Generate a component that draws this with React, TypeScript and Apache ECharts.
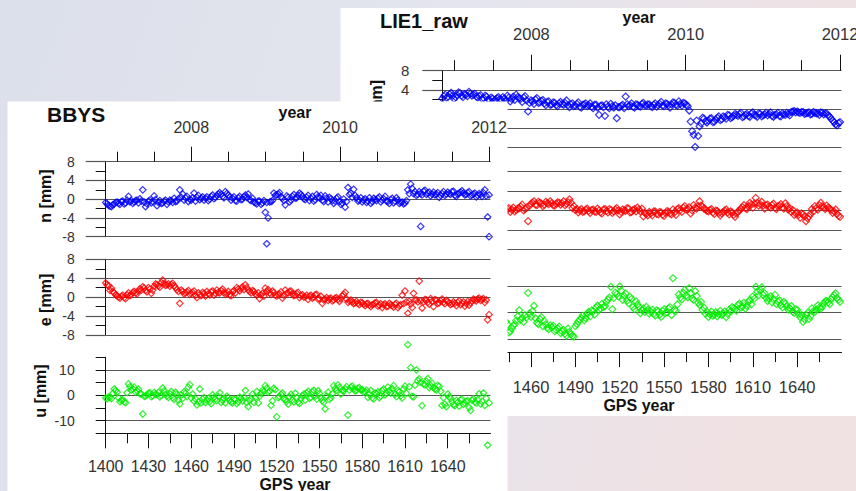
import React, { useEffect, useRef } from "react";
import * as echarts from "echarts";

// GPS weeks of the weekly solutions, split into even and odd weeks
const weeksEven = [
  1400, 1402, 1404, 1406, 1408, 1410, 1412, 1414, 1416, 1418,
  1420, 1422, 1424, 1426, 1428, 1430, 1432, 1434, 1436, 1438,
  1440, 1442, 1444, 1446, 1448, 1450, 1452, 1454, 1456, 1458,
  1460, 1462, 1464, 1466, 1468, 1470, 1472, 1474, 1476, 1478,
  1480, 1482, 1484, 1486, 1488, 1490, 1492, 1494, 1496, 1498,
  1500, 1502, 1504, 1506, 1508, 1510, 1512, 1514, 1516, 1518,
  1520, 1522, 1524, 1526, 1528, 1530, 1532, 1534, 1536, 1538,
  1540, 1542, 1544, 1546, 1548, 1550, 1552, 1554, 1556, 1558,
  1560, 1562, 1564, 1566, 1568, 1570, 1572, 1574, 1576, 1578,
  1580, 1582, 1584, 1586, 1588, 1590, 1592, 1594, 1596, 1598,
  1600, 1602, 1604, 1606, 1608, 1610, 1612, 1614, 1616, 1618,
  1620, 1622, 1624, 1626, 1628, 1630, 1632, 1634, 1636, 1638,
  1640, 1642, 1644, 1646, 1648, 1650, 1652, 1654, 1656, 1658,
  1660, 1662, 1664, 1666, 1668,
];
const weeksOdd = [
  1401, 1403, 1405, 1407, 1409, 1411, 1413, 1415, 1417, 1419,
  1421, 1423, 1425, 1427, 1429, 1431, 1433, 1435, 1437, 1439,
  1441, 1443, 1445, 1447, 1449, 1451, 1453, 1455, 1457, 1459,
  1461, 1463, 1465, 1467, 1469, 1471, 1473, 1475, 1477, 1479,
  1481, 1483, 1485, 1487, 1489, 1491, 1493, 1495, 1497, 1499,
  1501, 1503, 1505, 1507, 1509, 1511, 1513, 1515, 1517, 1519,
  1521, 1523, 1525, 1527, 1529, 1531, 1533, 1535, 1537, 1539,
  1541, 1543, 1545, 1547, 1549, 1551, 1553, 1555, 1557, 1559,
  1561, 1563, 1565, 1567, 1569, 1571, 1573, 1575, 1577, 1579,
  1581, 1583, 1585, 1587, 1589, 1591, 1593, 1595, 1597, 1599,
  1601, 1603, 1605, 1607, 1609, 1611, 1613, 1615, 1617, 1619,
  1621, 1623, 1625, 1627, 1629, 1631, 1633, 1635, 1637, 1639,
  1641, 1643, 1645, 1647, 1649, 1651, 1653, 1655, 1657, 1659,
  1661, 1663, 1665, 1667, 1669,
];

// BBYS north [mm]
const bbysN = [
  -0.7, -1.3, -1.6, -1.0, -0.6, -1.1, -0.4, -0.8, 0.6, -0.3,
  -0.6, -0.2, 0.1, 2.0, -1.6, -0.4, -0.8, 0.7, -1.4, -0.3,
  -0.8, -0.2, -0.6, -0.3, 0.2, -0.4, 2.0, 1.1, 0.3, -0.5,
  -0.2, 1.3, 0.4, -0.1, 0.5, 0.2, -0.3, 0.6, 0.1, 0.8,
  1.4, 0.6, 1.6, 0.9, -0.2, 0.5, -0.4, 0.6, 0.0, 0.9,
  1.1, -0.3, -0.6, -1.0, -0.4, -0.8, -2.8, -4.0, -0.5, 1.3,
  0.9, 1.4, 0.2, -1.2, 0.4, -0.2, 1.0, 0.3, 1.3, 0.6,
  -0.1, 0.8, 0.2, -0.4, 1.0, 0.3, -0.2, 0.7, -0.6, 0.1,
  -0.9, 0.2, -0.5, -0.8, -1.7, 2.5, 1.3, 2.1, 0.3, -0.2,
  -0.6, 0.1, -0.4, -0.9, 0.2, -0.3, 0.5, -0.2, 0.6, -0.5,
  -0.1, -0.8, 0.3, -0.9, -0.6, -0.8, 2.0, 3.2, 1.2, 0.8,
  1.6, 0.9, 1.9, 1.3, 0.7, 1.5, 1.1, 0.4, 1.2, 0.8,
  1.5, 1.0, 1.7, 0.6, 1.3, 1.8, 0.9, 1.4, 0.7, 1.1,
  0.5, 1.2, 0.6, 2.0, -3.8,
];
const bbysNOdd = [
  -1.0, -1.5, -1.2, -0.7, -0.9, -0.5, -1.0, -0.2, -0.6, -0.9,
  -0.3, -0.8, -0.4, -0.6, -1.0, -0.2, -0.5, -0.1, -0.7, -0.9,
  -0.4, -1.1, -0.2, -0.7, -0.5, 0.1, 0.4, -0.2, 0.6, 0.0,
  0.3, -0.4, 0.8, 0.2, -0.2, 0.5, 0.0, 0.9, 0.4, 1.1,
  1.0, 0.3, 1.2, 0.5, 0.2, -0.3, 0.3, -0.1, 0.5, 0.4,
  -0.1, 0.2, -0.8, -0.4, -1.1, -0.3, -0.7, -0.6, -0.3, 0.8,
  1.1, 0.5, -0.3, 0.7, -0.6, 0.6, 0.2, 0.8, 1.0, 0.1,
  0.4, -0.3, 0.6, -0.1, 0.5, 0.8, -0.5, 0.2, 0.4, -0.3,
  -0.4, 0.5, -1.1, 0.0, -0.5, 1.0, 0.4, 0.8, -0.4, 0.3,
  -0.2, -0.7, 0.3, -0.5, -0.1, 0.2, -0.6, 0.1, -0.4, -0.9,
  0.2, -0.4, -0.2, -0.7, -1.0, -0.3, 1.2, 2.3, 1.6, 1.0,
  1.2, 1.7, 1.0, 1.5, 1.1, 0.9, 1.4, 0.8, 1.6, 1.1,
  1.2, 1.6, 0.8, 1.1, 1.5, 1.3, 1.0, 1.6, 0.9, 1.3,
  0.8, 1.0, 1.4, 0.7, 0.9,
];
const bbysNExtra = [[1513, -9.5], [1621, -5.8], [1669, -8.0]];

// BBYS east [mm]
const bbysE = [
  3.0, 2.4, 1.9, 0.9, 0.3, -0.2, 0.4, -0.3, 0.9, 0.6,
  1.2, 0.7, 1.8, 2.2, 1.4, 2.0, 0.8, 2.3, 2.6, 2.1,
  3.6, 2.5, 2.8, 2.7, 2.4, 1.6, -1.3, 1.2, 0.9, 1.4,
  0.8, 1.3, -0.1, 0.6, 1.0, 0.2, 0.7, 1.1, 0.4, 1.5,
  0.9, 1.7, 0.6, 1.2, 0.3, 1.4, 2.0, 1.3, 2.2, 2.6,
  1.5, 0.9, 1.2, 0.4, -0.3, 0.8, 1.9, 1.6, 0.6, 1.0,
  0.2, 0.7, -0.2, 1.5, 0.9, 1.3, 0.3, 0.8, -0.1, 0.5,
  0.1, -0.5, 0.4, 0.0, 0.6, -0.3, -1.3, -0.4, -0.7, -0.2,
  -0.6, -0.1, -0.9, 0.3, 1.0, -1.1, -0.6, -1.4, -0.9, -1.6,
  -1.2, -1.8, -1.3, -2.0, -1.5, -1.1, -1.7, -2.2, -1.4, -1.9,
  -1.6, -2.1, -1.3, -1.8, 0.4, 1.3, -3.4, -1.5, 0.8, -0.6,
  3.4, -2.3, -0.5, -1.1, -0.3, -2.0, -0.7, -1.2, -0.4, -1.4,
  -0.9, -1.6, -1.0, -1.8, -0.8, -1.3, -1.9, -0.9, -1.2, -0.4,
  -0.8, -0.2, -0.5, -1.1, -4.8,
];
const bbysEOdd = [
  2.6, 1.4, 1.2, 0.5, 0.0, 0.2, -0.1, 0.5, 0.3, 1.0,
  0.9, 1.3, 1.5, 1.9, 1.1, 1.7, 1.5, 2.8, 2.4, 3.1,
  2.9, 2.6, 2.3, 2.9, 2.0, 1.2, 1.5, 0.7, 1.1, 0.6,
  1.0, 0.4, 0.9, 0.3, 0.8, 1.2, 0.5, 1.3, 0.8, 1.0,
  1.4, 1.0, 0.8, 0.5, 1.1, 0.9, 1.7, 1.8, 1.6, 2.0,
  1.2, 1.4, 0.7, 0.9, 0.5, 0.2, 1.2, 0.9, 1.3, 0.4,
  0.6, 1.1, 0.4, 0.8, 1.2, 0.7, 0.5, 1.0, 0.3, 0.0,
  0.4, 0.2, -0.2, 0.5, -0.4, 0.2, -0.6, -0.1, -0.3, -0.8,
  -0.2, -0.5, -0.3, 0.6, -0.4, -0.8, -1.0, -1.2, -1.3, -1.1,
  -1.5, -1.4, -1.7, -1.6, -1.2, -1.9, -1.4, -1.6, -2.0, -1.3,
  -1.8, -1.5, -2.2, -1.6, -1.4, -1.0, -0.9, -2.2, -0.6, -1.0,
  -0.8, -1.0, -0.6, -1.5, -0.9, -0.5, -1.3, -0.8, -1.1, -0.7,
  -1.2, -1.4, -1.3, -1.1, -1.6, -1.0, -1.4, -1.7, -0.8, -0.6,
  -0.4, -0.7, -0.3, -0.6, -3.7,
];
const bbysEExtra: number[][] = [];

// BBYS up [mm]
const bbysU = [
  -1.0, -0.6, -1.3, 2.5, 1.2, -2.5, -1.8, -2.9, 4.5, 2.1,
  3.2, 1.8, 0.6, -7.4, -0.3, 0.8, -0.5, 1.1, 0.2, -0.6,
  2.9, 0.4, -0.8, 1.5, -1.6, 0.3, -3.4, -1.2, 0.9, 3.2,
  -1.0, -2.3, -3.8, 2.5, -1.5, -2.9, -1.2, -3.3, -0.8, -2.1,
  1.0, -1.9, -3.0, -0.9, -2.6, -1.5, -3.3, -0.7, -2.2, 1.9,
  -4.5, -1.2, -2.8, 1.5, -0.4, 2.0, 3.8, 1.2, -4.0, 2.8,
  -8.5, -0.5, 0.9, -1.8, -3.5, 0.4, -2.6, -1.0, -3.2, -0.2,
  -1.9, 1.6, -0.8, 2.0, -1.5, 0.7, -2.1, -5.4, 1.2, -1.0,
  3.8, 2.0, 3.1, 1.9, 2.6, -7.8, 3.2, 2.4, 1.9, 3.0,
  2.2, 1.5, -0.8, 1.9, -1.4, 0.6, -0.9, 1.8, 0.2, 3.2,
  0.9, 3.8, -0.5, 1.4, -1.1, 3.6, 20.0, 10.9, -0.6, 10.0,
  6.5, -4.1, 4.2, 6.6, 3.8, 3.0, 2.1, 3.5, -4.0, -3.6,
  0.5, -1.2, -3.8, -2.0, -4.3, -1.5, -3.0, -2.2, -6.0, -1.4,
  -3.1, 0.6, -2.4, -4.0, -19.7,
];
const bbysUOdd = [
  -1.4, -0.8, 0.8, 1.9, -1.0, -2.0, -2.6, 1.0, 3.4, 2.6,
  1.2, 2.4, 0.5, -0.4, 0.2, 1.0, -0.2, 0.4, 1.2, 0.0,
  1.8, -0.3, 0.6, -0.9, 1.2, -2.0, 0.1, 1.4, -0.5, 4.2,
  0.5, -1.4, -2.6, -3.0, -0.9, -1.9, -2.4, 0.2, -1.5, -0.4,
  -2.8, -1.2, -0.4, -2.0, -3.0, -1.8, -2.5, -1.2, -0.8, -2.9,
  -2.1, 0.4, -0.8, -3.0, 0.8, 1.5, 2.8, 1.6, -2.2, 2.2,
  -0.9, 0.4, -1.4, -2.4, -0.6, -1.8, 0.8, -2.7, -1.4, 0.5,
  0.9, -1.2, 1.4, -0.4, 1.8, -1.0, -2.8, -0.3, -1.6, 0.6,
  2.6, 4.1, 0.5, 1.6, 3.4, 2.0, 3.6, 1.7, 2.8, 2.1,
  1.2, 2.0, 0.4, -1.0, 0.9, 1.4, -0.3, 2.5, 0.8, 1.9,
  2.6, 0.4, 1.9, -0.2, 2.5, 0.8, 3.4, -0.4, 4.0, 5.8,
  5.1, 4.4, 5.5, 3.0, 4.8, 2.4, 3.9, 1.6, -1.0, -4.5,
  -0.6, -2.5, -4.1, -2.8, -1.8, -3.6, -2.4, -4.8, -1.9, -2.6,
  -1.8, -3.4, 0.9, -1.2, -3.0,
];
const bbysUExtra: number[][] = [];

// LIE1 north [mm]
const lie1N = [
  2.2, 3.0, 2.6, 3.4, 2.1, 2.9, 3.3, 2.5, 3.0, 3.6,
  2.8, 3.2, 2.4, 2.9, 2.3, 2.6, 1.9, 2.2, 2.0, 2.5,
  1.9, 2.2, 2.8, 1.6, 2.6, 3.0, 2.3, 1.5, 2.7, -0.5,
  1.8, 1.1, 2.3, 1.4, 1.9, 0.8, 1.6, 1.0, 1.3, 0.6,
  1.5, 0.9, 1.8, 0.4, 1.2, 0.7, 1.4, 0.3, 1.0, 0.6,
  1.2, 0.2, 0.9, -1.2, 0.8, -1.4, 0.5, 1.1, 0.3, -1.9,
  0.4, 0.9, 2.6, 0.6, 1.2, 0.3, 0.9, 0.5, 1.3, 0.7,
  1.0, 0.4, 1.2, 0.8, 1.5, 0.6, 1.1, 0.3, 1.4, 0.9,
  1.6, 0.7, 1.2, 0.6, -2.6, -5.4, -2.4, -3.6, -1.8, -2.5,
  -2.4, -1.9, -2.6, -1.8, -2.3, -1.5, -2.0, -1.3, -1.7, -1.0,
  -1.4, -0.8, -1.5, -1.0, -1.6, -0.7, -1.3, -0.9, -1.5, -1.1,
  -1.3, -0.7, -1.6, -1.1, -1.4, -0.9, -1.2, -1.0, -0.6, -0.4,
  -0.5, -0.8, -0.6, -0.9, -0.7, -1.0, -0.8, -0.9, -0.7, -1.1,
  -0.9, -1.6, -2.4, -3.2, -2.9,
];
const lie1NOdd = [
  2.7, 2.4, 3.1, 2.8, 2.5, 3.5, 2.8, 3.1, 2.7, 3.2,
  3.0, 2.6, 2.7, 2.1, 2.8, 2.0, 2.4, 1.7, 2.3, 2.1,
  2.5, 1.8, 2.4, 2.1, 1.9, 2.5, 2.1, 2.4, 1.8, 1.3,
  1.6, 2.0, 1.3, 1.7, 1.2, 1.5, 0.9, 1.4, 0.8, 1.2,
  1.1, 1.3, 0.8, 1.0, 0.6, 1.1, 0.5, 0.9, 1.2, 0.8,
  0.5, 0.9, 0.3, 0.7, 0.4, 1.0, 0.2, 0.6, 0.8, 0.4,
  0.7, 0.2, 1.0, 0.8, 0.5, 1.0, 0.6, 1.1, 0.8, 1.0,
  0.6, 0.9, 0.5, 1.1, 0.7, 1.2, 0.8, 1.0, 1.3, 0.7,
  1.1, 1.3, 0.9, -0.3, -4.6, -7.9, -5.6, -3.0, -2.0, -2.8,
  -2.0, -2.7, -2.2, -1.5, -2.1, -1.7, -1.2, -1.9, -1.4, -1.2,
  -1.0, -1.7, -1.2, -1.4, -0.9, -1.2, -1.6, -1.0, -1.3, -0.8,
  -1.0, -1.4, -1.2, -0.8, -1.5, -1.1, -0.8, -1.3, -0.5, -0.7,
  -0.7, -0.6, -1.0, -0.8, -1.1, -0.6, -0.9, -1.2, -0.8, -0.9,
  -1.3, -2.0, -2.7, -3.4, -2.7,
];
const lie1NExtra: number[][] = [];

// LIE1 east [mm]
const lie1E = [
  0.3, -0.2, 0.5, 0.1, -0.4, 0.2, 0.6, -0.1, 0.3, -0.3,
  0.4, 0.0, -0.5, 0.2, 0.7, -0.2, 0.1, 0.5, -0.3, 0.2,
  0.0, 0.4, 0.3, -0.3, 0.6, 0.1, 0.5, 1.2, 0.3, -2.2,
  1.4, 1.9, 1.1, 1.6, 0.9, 1.8, 1.3, 1.5, 1.0, 1.7,
  1.2, 1.9, 1.4, 2.3, 0.5, 0.1, -0.4, 0.3, -0.2, 0.4,
  -0.5, 0.2, -0.3, 0.0, -0.6, 0.3, -0.4, 0.1, -0.2, 0.5,
  -0.8, 0.2, -0.1, 0.4, -0.3, 0.3, 0.6, -0.2, -1.2, -0.7,
  -0.3, -1.0, -0.2, -0.8, -0.4, -1.1, -0.1, -0.6, 0.2, -0.9,
  0.5, -0.3, 0.9, 0.3, -0.6, 1.1, 0.4, 1.9, 0.8, 0.2,
  -0.2, 0.3, -0.7, -0.1, -1.0, -0.3, 0.2, -0.8, -0.4, -1.3,
  -0.2, 0.4, 1.1, 0.3, 1.6, 0.6, 2.6, 1.0, 1.8, 0.4,
  1.2, 0.6, 1.4, 0.3, 1.0, 0.7, 1.5, 0.2, -0.3, -0.9,
  -0.4, -1.5, -0.8, -2.2, -1.2, 0.3, 0.9, 0.2, 1.6, 0.7,
  1.0, 0.4, -0.5, 0.2, -1.1,
];
const lie1EOdd = [
  0.1, 0.4, -0.3, 0.2, 0.0, 0.5, -0.2, 0.1, 0.6, -0.1,
  -0.4, 0.3, 0.1, -0.2, 0.4, 0.0, -0.3, 0.3, 0.5, -0.1,
  0.2, -0.1, 0.5, 0.2, -0.2, 0.4, 0.8, 0.0, 0.6, 1.0,
  1.6, 1.2, 1.8, 1.4, 1.2, 1.5, 1.9, 1.1, 1.4, 1.6,
  1.5, 1.1, 1.7, 1.6, 0.9, 0.3, 0.0, -0.3, 0.2, -0.1,
  0.1, -0.2, 0.4, -0.4, 0.2, -0.1, 0.3, -0.5, 0.2, 0.0,
  -0.3, 0.0, 0.5, -0.4, 0.1, -0.2, 0.2, 0.4, -0.5, -1.0,
  -0.6, -0.2, -0.7, -0.3, -0.9, -0.5, -0.3, -0.8, -0.4, 0.3,
  0.1, 0.6, 0.2, 0.7, 0.0, 0.6, 0.9, 1.0, 0.4, -0.1,
  0.1, -0.4, 0.0, -0.5, -0.6, 0.0, -0.4, -0.2, -0.9, -0.6,
  0.0, 0.7, 0.5, 0.9, 1.2, 1.4, 1.6, 1.3, 1.0, 1.1,
  0.8, 1.1, 0.6, 0.9, 1.3, 0.4, 0.9, 0.5, 0.1, -0.6,
  -0.9, -0.6, -1.2, -1.6, -0.7, -0.2, 0.5, 1.1, 0.9, 0.3,
  0.6, 0.1, -0.2, -0.7, -1.3,
];
const lie1EExtra: number[][] = [];

// LIE1 up [mm]
const lie1U = [
  -3.5, -5.0, -4.2, -6.1, -3.8, -5.5, -4.6, -6.8, -4.0, -5.2,
  -6.0, -4.4, -5.7, -3.6, -6.5, -4.9, -5.3, -7.0, -4.1, -5.8,
  -3.9, -6.4, -4.5, -7.2, -5.0, -3.1, 0.8, -2.0, -1.0, 7.4,
  -1.7, 2.5, -3.9, -2.6, -5.2, -4.5, -6.3, -5.6, -7.1, -6.0,
  -7.8, -6.6, -8.8, -7.4, -8.9, -5.2, -3.4, -2.1, -3.0, -0.6,
  -1.5, 0.4, 1.8, 0.9, 3.2, 2.4, 4.8, 9.7, 5.5, 6.9,
  9.8, 4.7, 7.2, 3.5, 5.1, 1.2, 3.0, -0.3, 1.5, 2.1,
  -0.5, 1.0, -1.2, 0.4, -1.7, 1.2, 0.0, 2.0, 12.9, 0.6,
  6.8, 4.9, 8.5, 5.7, 7.3, 4.7, 6.2, 2.8, 0.9, -0.5,
  -1.7, 0.3, -0.9, -1.5, 0.6, -0.4, -1.8, 1.0, 2.0, 1.2,
  2.8, 1.9, 3.6, 2.5, 4.7, 6.0, 9.7, 6.5, 9.5, 7.2,
  4.3, 6.1, 5.0, 3.2, 4.6, 1.9, 3.3, 1.0, 2.4, -0.2,
  0.9, -1.8, -3.6, -1.0, -2.5, 1.5, 0.2, 2.7, 1.4, 3.5,
  4.4, 3.1, 5.8, 7.2, 4.7,
];
const lie1UOdd = [
  -4.4, -5.6, -3.9, -5.0, -6.3, -4.2, -5.9, -5.1, -4.7, -6.2,
  -5.0, -3.8, -6.1, -5.4, -4.3, -6.0, -4.6, -5.5, -6.6, -4.8,
  -5.2, -3.5, -7.6, -6.0, -4.4, -1.5, -2.8, -3.6, -1.9, -0.4,
  0.5, -2.2, -4.4, -1.8, -3.3, -5.9, -4.9, -5.0, -6.6, -5.4,
  -7.2, -8.0, -6.1, -8.3, -9.2, -4.4, -2.8, -1.2, -2.2, 0.2,
  0.8, -0.8, 2.6, 1.5, 2.0, 4.0, 5.6, 1.2, 7.5, 6.0,
  8.2, 6.1, 4.4, 5.8, 2.0, 4.2, 2.0, 0.8, 0.2, 1.0,
  0.3, -0.6, 0.8, -0.9, 0.5, -0.2, 1.5, -1.0, 1.0, 3.0,
  5.6, 7.4, 6.4, 9.2, 5.3, 8.0, 3.7, 4.0, 1.8, 0.2,
  -0.8, -1.2, 0.1, -0.7, -1.0, 0.4, -0.6, 0.3, 1.6, 0.6,
  3.3, 2.2, 1.4, 3.9, 3.0, 5.2, 7.8, 8.4, 6.6, 5.5,
  5.4, 3.8, 6.6, 4.1, 2.7, 4.0, 2.2, 1.6, 0.3, 1.2,
  -0.6, -1.0, -2.6, -0.2, -1.4, 0.5, 1.1, 1.8, 2.2, 4.2,
  3.8, 4.9, 6.5, 5.4, 4.0,
];
const lie1UExtra: number[][] = [];

// tick labels
const weekTicks = [1400, 1430, 1460, 1490, 1520, 1550, 1580, 1610, 1640];
const weekMinorTicks = [1415, 1445, 1475, 1505, 1535, 1565, 1595, 1625, 1655];
const lie1WeekLabels = [1460, 1490, 1520, 1550, 1580, 1610, 1640];
const neLabels = [-8, -4, 0, 4, 8];
const lie1NLabels = [4, 8];
const uLabels = [-10, 0, 10];

const FONT = "'Liberation Sans', Arial, Helvetica, sans-serif";
const GRID_C = "#555555";
const AX_C = "#111";
const LBL_C = "#333";
const BLUE = "#0000ff";
const RED = "#ff0000";
const GREEN = "#00ee00";

function toPoints(even: number[], odd: number[], extra: number[][]) {
  const a = weeksEven.map((w, i) => [w, even[i]]);
  const b = weeksOdd.map((w, i) => [w, odd[i]]);
  return a.concat(b, extra);
}

type Panel = {
  xl: number; xw: number;
  nTop: number; nH: number; eTop: number; eH: number; uTop: number; uH: number;
  y07: number; y12: number; shortLen: number; longLen: number;
  yearMargin: number; weekMargin: number; yLblMargin: number;
  yLblSize: number; xLblSize: number; z: number; sym: number;
  nLabels: number[]; showEU: boolean; weekLabels: number[];
  n: number[][]; e: number[][]; u: number[][];
};

function buildPanel(p: Panel, gi: number, xi: number, yi: number) {
  const y08 = p.y07 + (p.y12 - p.y07) / 5;
  const grids = [
    { left: p.xl, top: p.nTop, width: p.xw, height: p.nH },
    { left: p.xl, top: p.eTop, width: p.xw, height: p.eH },
    { left: p.xl, top: p.uTop, width: p.xw, height: p.uH },
    { left: p.y07, top: p.nTop, width: p.y12 - p.y07, height: p.nH },
    { left: y08, top: p.nTop, width: p.y12 - y08, height: p.nH },
  ].map((g) => ({ ...g, containLabel: false, outerBoundsMode: "none", show: false, z: p.z }));

  const lbl = (size: number) => ({ fontSize: size, color: LBL_C, fontFamily: FONT });
  const hiddenX = (g: number) => ({ type: "value", gridIndex: g, show: false, min: 1400, max: 1670, z: p.z });
  const xAxes: any[] = [
    hiddenX(gi),
    hiddenX(gi + 1),
    {
      type: "value", gridIndex: gi + 2, position: "bottom", min: 1400, max: 1670, z: p.z,
      axisLine: { show: true, onZero: false, lineStyle: { color: AX_C, width: 1 } },
      axisTick: { show: true, length: 15, customValues: weekTicks, lineStyle: { color: AX_C, width: 1 } },
      axisLabel: {
        show: true, customValues: p.weekLabels, margin: p.weekMargin, ...lbl(p.xLblSize),
        formatter: (v: number) => String(v), showMinLabel: true, showMaxLabel: true,
      },
      splitLine: { show: false },
    },
    {
      type: "value", gridIndex: gi + 2, position: "bottom", min: 1400, max: 1670, z: p.z,
      axisLine: { show: false, onZero: false },
      axisTick: { show: true, length: 10, customValues: weekMinorTicks, lineStyle: { color: AX_C, width: 1 } },
      axisLabel: { show: false },
      splitLine: { show: false },
    },
    {
      type: "value", gridIndex: gi + 3, position: "top", min: 2007, max: 2012, interval: 0.5, z: p.z,
      axisLine: { show: false, onZero: false },
      axisTick: { show: true, length: p.shortLen, lineStyle: { color: AX_C, width: 1 } },
      axisLabel: { show: false },
      splitLine: { show: false },
    },
    {
      type: "value", gridIndex: gi + 4, position: "top", min: 2008, max: 2012, interval: 2, z: p.z,
      axisLine: { show: false, onZero: false },
      axisTick: { show: true, length: p.longLen, lineStyle: { color: AX_C, width: 1 } },
      axisLabel: {
        show: true, margin: p.yearMargin, ...lbl(p.xLblSize),
        formatter: (v: number) => String(v), showMinLabel: true, showMaxLabel: true,
      },
      splitLine: { show: false },
    },
  ];

  const neAxis = (g: number, labels: number[], show: boolean) => ({
    type: "value", gridIndex: g, min: -8, max: 8, interval: 4, z: p.z,
    axisLine: { show: true, onZero: false, lineStyle: { color: AX_C, width: 1 } },
    axisTick: { show: true, length: 20, lineStyle: { color: GRID_C, width: 1.2 } },
    minorTick: { show: true, splitNumber: 2, length: 10, lineStyle: { color: AX_C, width: 1 } },
    axisLabel: {
      show, margin: p.yLblMargin, ...lbl(p.yLblSize), showMinLabel: true, showMaxLabel: true,
      formatter: (v: number) => (labels.indexOf(v) >= 0 ? String(v) : ""),
    },
    splitLine: { show: true, lineStyle: { color: GRID_C, width: 1.2 } },
    minorSplitLine: { show: false },
  });
  const yAxes: any[] = [
    neAxis(gi, p.nLabels, true),
    neAxis(gi + 1, neLabels, p.showEU),
    {
      type: "value", gridIndex: gi + 2, min: -15, max: 15, interval: 5, z: p.z,
      axisLine: { show: true, onZero: false, lineStyle: { color: AX_C, width: 1 } },
      axisTick: { show: true, length: 10, lineStyle: { color: AX_C, width: 1 } },
      axisLabel: {
        show: p.showEU, margin: p.yLblMargin, ...lbl(p.yLblSize), showMinLabel: true, showMaxLabel: true,
        formatter: (v: number) => (uLabels.indexOf(v) >= 0 ? String(v) : ""),
      },
      splitLine: { show: true, lineStyle: { color: ["transparent", GRID_C], width: 1.2 } },
    },
    { type: "value", gridIndex: gi + 3, show: false, min: 0, max: 1 },
    { type: "value", gridIndex: gi + 4, show: false, min: 0, max: 1 },
  ];

  const sc = (x: number, y: number, data: number[][], color: string) => ({
    type: "scatter", xAxisIndex: x, yAxisIndex: y, data, symbol: "diamond", symbolSize: p.sym,
    itemStyle: { color: "rgba(0,0,0,0)", borderColor: color, borderWidth: 1.2 },
    clip: false, silent: true, z: p.z + 1, emphasis: { disabled: true },
  });
  const series = [
    sc(xi, yi, p.n, BLUE),
    sc(xi + 1, yi + 1, p.e, RED),
    sc(xi + 2, yi + 2, p.u, GREEN),
  ];
  return { grids, xAxes, yAxes, series };
}

function txt(text: string, x: number, y: number, size: number, z: number, align = "center", rot = 0, weight = "bold") {
  return {
    type: "text", x, y, rotation: rot, z, silent: true,
    style: {
      text, fill: "#111", font: `${weight} ${size}px ${FONT}`,
      textAlign: align, align, textVerticalAlign: "middle", verticalAlign: "middle",
    },
  };
}

function buildOption() {
  const lie: Panel = {
    xl: 442.3, xw: 399.2, nTop: 70.7, nH: 76.8, eTop: 171.7, eH: 77.6, uTop: 272.7, uH: 79.4,
    y07: 454.3, y12: 840, shortLen: 10.5, longLen: 16, yearMargin: 28.5, weekMargin: 26.5,
    yLblMargin: 33, yLblSize: 15, xLblSize: 16.5, z: 2, sym: 7,
    nLabels: lie1NLabels, showEU: false, weekLabels: lie1WeekLabels,
    n: toPoints(lie1N, lie1NOdd, lie1NExtra),
    e: toPoints(lie1E, lie1EOdd, lie1EExtra),
    u: toPoints(lie1U, lie1UOdd, lie1UExtra),
  };
  const bb: Panel = {
    xl: 105.7, xw: 384.8, nTop: 161.7, nH: 75, eTop: 259.3, eH: 75.7, uTop: 357.3, uH: 76,
    y07: 116.8, y12: 489, shortLen: 10, longLen: 15, yearMargin: 26, weekMargin: 25.5,
    yLblMargin: 31, yLblSize: 14, xLblSize: 16, z: 5, sym: 6.5,
    nLabels: neLabels, showEU: true, weekLabels: weekTicks,
    n: toPoints(bbysN, bbysNOdd, bbysNExtra),
    e: toPoints(bbysE, bbysEOdd, bbysEExtra),
    u: toPoints(bbysU, bbysUOdd, bbysUExtra),
  };
  const L = buildPanel(lie, 0, 0, 0);
  const B = buildPanel(bb, 5, 6, 5);

  const graphic = [
    {
      type: "rect", z: 0, silent: true, shape: { x: 0, y: 0, width: 856, height: 491 },
      style: {
        fill: new echarts.graphic.LinearGradient(0, 0, 1, 0.2, [
          { offset: 0, color: "#dce0ea" },
          { offset: 0.55, color: "#e4e5ee" },
          { offset: 1, color: "#f0e1e3" },
        ]),
      },
    },
    { type: "rect", z: 1, silent: true, shape: { x: 340.5, y: 8, width: 520, height: 408 }, style: { fill: "#ffffff" } },
    txt("LIE1_raw", 380, 21, 20, 3, "left"),
    txt("year", 639, 17, 16, 3),
    txt("GPS year", 639, 405.5, 16, 3),
    txt("n [mm]", 376, 106.5, 16, 3, "center", Math.PI / 2),
    { type: "rect", z: 4, silent: true, shape: { x: 7.5, y: 101.5, width: 500, height: 400 }, style: { fill: "#ffffff" } },
    txt("BBYS", 47, 114, 21, 6, "left"),
    txt("year", 295, 112, 16, 6),
    txt("GPS year", 295, 484, 16, 6),
    txt("n [mm]", 45, 196, 16, 6, "center", Math.PI / 2),
    txt("e [mm]", 45, 300, 16, 6, "center", Math.PI / 2),
    txt("u [mm]", 40, 391, 16, 6, "center", Math.PI / 2),
  ];

  return {
    animation: false,
    textStyle: { fontFamily: FONT },
    grid: [...L.grids, ...B.grids],
    xAxis: [...L.xAxes, ...B.xAxes],
    yAxis: [...L.yAxes, ...B.yAxes],
    series: [...L.series, ...B.series],
    graphic,
  };
}

export default function App() {
  const ref = useRef<HTMLDivElement>(null);
  useEffect(() => {
    document.body.style.margin = "0";
    if (!ref.current) return;
    const chart = echarts.init(ref.current, undefined, { renderer: "svg", width: 856, height: 491 });
    chart.setOption(buildOption() as any);
    return () => chart.dispose();
  }, []);
  return <div ref={ref} style={{ width: 856, height: 491 }} />;
}
